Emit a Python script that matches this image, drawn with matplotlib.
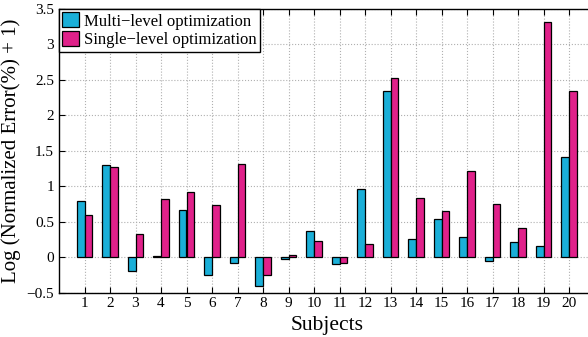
import matplotlib.pyplot as plt
import numpy as np

plt.rcParams['font.family'] = ['Liberation Serif', 'DejaVu Serif']

subjects = list(range(1, 21))
multi_level = [0.79, 1.30, -0.19, 0.01, 0.66, -0.25, -0.09, -0.41, -0.03, 0.37,
               -0.10, 0.96, 2.34, 0.26, 0.53, 0.28, -0.06, 0.21, 0.16, 1.41]
single_level = [0.60, 1.27, 0.33, 0.82, 0.92, 0.73, 1.32, -0.25, 0.03, 0.22,
                -0.09, 0.19, 2.53, 0.84, 0.65, 1.22, 0.75, 0.41, 3.31, 2.35]

x = np.array(subjects)
w = 0.3

fig = plt.figure(figsize=(5.88, 3.37), dpi=100)
ax = fig.add_axes([59 / 588, 1 - 292.5 / 337, 535.5 / 588, 283.5 / 337])

ax.bar(x - w / 2, multi_level, width=w, color='#1aafd8', edgecolor='black',
       linewidth=0.9, label='Multi\u2212level optimization', zorder=3)
ax.bar(x + w / 2, single_level, width=w, color='#e0218a', edgecolor='black',
       linewidth=0.9, label='Single\u2212level optimization', zorder=3)

ax.set_xlim(0, 21)
ax.set_ylim(-0.5, 3.5)
ax.set_xticks(subjects)
ax.set_yticks(np.arange(-0.5, 3.51, 0.5))
ax.set_yticklabels(['\u22120.5', '0', '0.5', '1', '1.5', '2', '2.5', '3', '3.5'])
ax.tick_params(direction='in', top=True, right=True, labelsize=11, length=4)
ax.grid(True, linestyle=':', color='#b0b0b0', linewidth=0.8, zorder=0)

ax.set_xlabel('Subjects', fontsize=15.5)
ax.set_ylabel('Log (Normalized Error(%) + 1)', fontsize=15)

leg = ax.legend(loc='upper left', borderaxespad=0, fancybox=False,
                edgecolor='black', framealpha=1, fontsize=12,
                handlelength=1.0, handleheight=1.0, handletextpad=0.3,
                borderpad=0.2, labelspacing=0.1)
leg.get_frame().set_linewidth(1.0)

for s in ax.spines.values():
    s.set_linewidth(1.0)

fig.savefig('out.png', dpi=100)
